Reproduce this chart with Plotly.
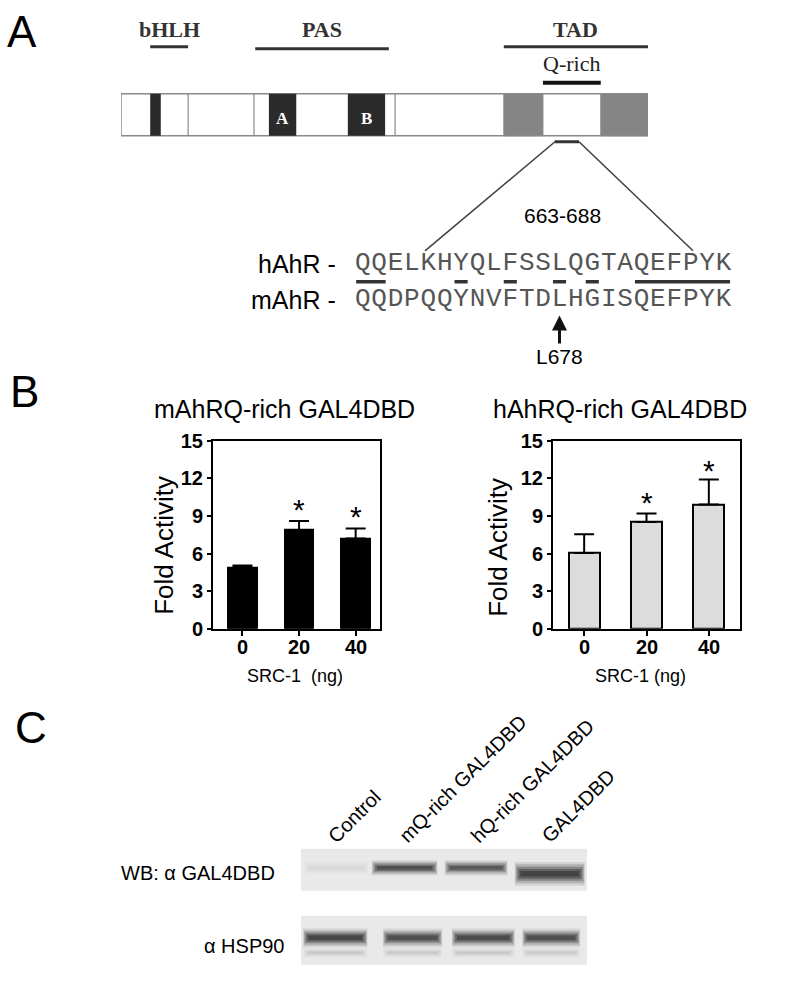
import plotly.graph_objects as go

W, H = 800, 981
# measured: photographed y = OFF + SC * page y  -> compensate
OFF, SC = 10.25, 0.9775

# ---------------- data ----------------
src1_ng = ["0", "20", "40"]
m_fold = [4.9, 7.87, 7.2]
m_err = [0.15, 0.73, 0.8]
m_star = [None, 10.1, 9.55]
h_fold = [6.04, 8.52, 9.92]
h_err = [1.5, 0.68, 2.0]
h_star = [None, 10.67, 13.2]
y_ticks = [0, 3, 6, 9, 12, 15]

hAhR_seq = "QQELKHYQLFSSLQGTAQEFPYK"
mAhR_seq = "QQDPQQYNVFTDLHGISQEFPYK"
mutant_index = 12
mutant_label = "L678"
region_label = "663-688"

protein_len = 848
domain_labels = ["bHLH", "PAS", "TAD"]
domain_spans = [(47, 108), (216, 431), (616, 848)]
qrich_span = (679, 772)
divider_pos = [108, 214, 441]
dark_boxes = [(47, 64, ""), (238, 282, "A"), (365, 425, "B")]
grey_boxes = [(616, 679), (772, 848)]
zoom_span = (698, 737)

lanes = ["Control", "mQ-rich GAL4DBD", "hQ-rich GAL4DBD", "GAL4DBD"]
gal4_band = [0.05, 0.8, 0.72, 0.95]
hsp90_band = [0.92, 0.8, 0.85, 0.8]

# ---------------- helpers ----------------
def fx(px):
    return px / W

def fy(t):
    page = (t - OFF) / SC
    return 1 - page / H

SANS = "Arial, Liberation Sans, sans-serif"
SERIF = "Times New Roman, Liberation Serif, serif"
MONO = "Courier New, Liberation Mono, monospace"

fig = go.Figure()

fig.add_trace(go.Bar(
    x=src1_ng, y=m_fold, width=0.51, xaxis="x", yaxis="y",
    marker=dict(color="black", line=dict(color="black", width=2)),
    error_y=dict(type="data", symmetric=False, array=m_err, arrayminus=[0] * 3,
                 color="black", thickness=2, width=10),
    showlegend=False, hoverinfo="skip"))
fig.add_trace(go.Bar(
    x=src1_ng, y=h_fold, width=0.5, xaxis="x2", yaxis="y2",
    marker=dict(color="#dcdcdc", line=dict(color="black", width=2)),
    error_y=dict(type="data", symmetric=False, array=h_err, arrayminus=[0] * 3,
                 color="black", thickness=2, width=10),
    showlegend=False, hoverinfo="skip"))

idx = list(range(len(hAhR_seq)))
fig.add_trace(go.Scatter(x=idx, y=[0] * len(idx), mode="text", text=list(hAhR_seq),
                         textfont=dict(family=MONO, size=26, color="#555"),
                         xaxis="x6", yaxis="y6", showlegend=False, hoverinfo="skip"))
fig.add_trace(go.Scatter(x=idx, y=[1] * len(idx), mode="text", text=list(mAhR_seq),
                         textfont=dict(family=MONO, size=26, color="#555"),
                         xaxis="x6", yaxis="y6", showlegend=False, hoverinfo="skip"))

shapes = []
ann = []

for xi, s in enumerate(m_star):
    if s is not None:
        ann.append(dict(x=xi, y=s, xref="x", yref="y", text="*", showarrow=False,
                        font=dict(family=SANS, size=30, color="black"), yshift=-7))
for xi, s in enumerate(h_star):
    if s is not None:
        ann.append(dict(x=xi, y=s, xref="x2", yref="y2", text="*", showarrow=False,
                        font=dict(family=SANS, size=30, color="black"), yshift=-7))

# category tick labels placed close under the axis
for xr in ["x", "x2"]:
    for xi, lab in enumerate(src1_ng):
        ann.append(dict(x=xi, y=646, xref=xr, yref="y3", text="<b>%s</b>" % lab,
                        showarrow=False, font=dict(family=SANS, size=20, color="black")))

def pann(x, y, text, size, family=SANS, **kw):
    d = dict(x=x, y=y, xref="x3", yref="y3", text=text, showarrow=False,
             font=dict(family=family, size=size, color=kw.pop("color", "black")))
    d.update(kw)
    ann.append(d)

pann(22, 31, "A", 44)
pann(24, 391, "B", 44)
pann(31, 727, "C", 44)

pann(284, 408, "mAhRQ-rich GAL4DBD", 25)
pann(620, 408, "hAhRQ-rich GAL4DBD", 25)
pann(164, 545, "Fold Activity", 26, textangle=-90)
pann(498, 547, "Fold Activity", 26, textangle=-90)
pann(295, 675, "SRC-1  (ng)", 18)
pann(640, 675, "SRC-1 (ng)", 18)

for lab, (a, b), ly in zip(domain_labels, domain_spans, [46, 48, 46]):
    shapes.append(dict(type="line", xref="x5", yref="y3", x0=a, x1=b, y0=ly, y1=ly,
                       line=dict(color="#333", width=3)))
    ann.append(dict(x=(a + b) / 2, y=29, xref="x5", yref="y3", text="<b>%s</b>" % lab,
                    showarrow=False, font=dict(family=SERIF, size=22, color="#333")))
shapes.append(dict(type="line", xref="x5", yref="y3", x0=qrich_span[0], x1=qrich_span[1],
                   y0=82, y1=82, line=dict(color="#111", width=4)))
ann.append(dict(x=sum(qrich_span) / 2, y=63, xref="x5", yref="y3", text="Q-rich",
                showarrow=False, font=dict(family=SERIF, size=22, color="#222")))

shapes.append(dict(type="rect", xref="x5", yref="y3", x0=0, x1=protein_len, y0=93, y1=135,
                   fillcolor="white", line=dict(color="#8a8a8a", width=1.5)))
for g0, g1 in grey_boxes:
    shapes.append(dict(type="rect", xref="x5", yref="y3", x0=g0, x1=g1, y0=93, y1=135,
                       fillcolor="#858585", line=dict(color="#8a8a8a", width=1)))
for d in divider_pos:
    shapes.append(dict(type="line", xref="x5", yref="y3", x0=d, x1=d, y0=93, y1=135,
                       line=dict(color="#8a8a8a", width=1.2)))
for b0, b1, lab in dark_boxes:
    shapes.append(dict(type="rect", xref="x5", yref="y3", x0=b0, x1=b1, y0=93, y1=135,
                       fillcolor="#2b2b2b", line=dict(width=0)))
    if lab:
        ann.append(dict(x=(b0 + b1) / 2, y=118, xref="x5", yref="y3", text="<b>%s</b>" % lab,
                        showarrow=False, font=dict(family=SERIF, size=17, color="white")))

shapes.append(dict(type="line", xref="x5", yref="y3", x0=zoom_span[0], x1=zoom_span[1],
                   y0=141, y1=141, line=dict(color="#333", width=3)))
shapes.append(dict(type="path", xref="x3", yref="y3",
                   path="M 425 250 L 555 141 M 579 141 L 693 250",
                   line=dict(color="#444", width=1.6)))
pann(562, 215, region_label, 21)

pann(338, 263, "hAhR -", 25, xanchor="right")
pann(338, 299, "mAhR -", 25, xanchor="right")

cons = [i for i, (a, b) in enumerate(zip(hAhR_seq, mAhR_seq)) if a == b]
runs = []
for i in cons:
    if runs and runs[-1][1] == i - 1:
        runs[-1][1] = i
    else:
        runs.append([i, i])
for r0, r1 in runs:
    shapes.append(dict(type="line", xref="x6", yref="y6", x0=r0 - 0.4, x1=r1 + 0.4,
                       y0=0.5, y1=0.5, line=dict(color="#333", width=3.5)))

ann.append(dict(x=mutant_index, y=1.44, xref="x6", yref="y6", text=mutant_label,
                showarrow=True, ax=0, ay=41, axref="pixel", ayref="pixel",
                arrowhead=2, arrowsize=1, arrowwidth=3, arrowcolor="#111",
                font=dict(family=SANS, size=21, color="black")))

for i, lab in enumerate(lanes):
    ann.append(dict(x=i - 0.23, y=849, xref="x4", yref="y3", text=lab, textangle=-45,
                    xanchor="left", yanchor="bottom", showarrow=False,
                    font=dict(family=SANS, size=20, color="black")))

shapes.append(dict(type="rect", xref="x4", yref="y3", x0=-0.5, x1=3.5, y0=848, y1=890,
                   fillcolor="#e9e9e9", line=dict(width=0)))
shapes.append(dict(type="rect", xref="x4", yref="y3", x0=-0.5, x1=3.5, y0=915, y1=964,
                   fillcolor="#e9e9e9", line=dict(width=0)))

def soft_band(cx, w, c, hh, v, base=35):
    for sw, sh, op in [(1.0, 1.7, 0.12), (0.98, 1.35, 0.2), (0.95, 1.0, 0.3),
                       (0.9, 0.7, 0.4), (0.84, 0.4, 0.5)]:
        shapes.append(dict(type="rect", xref="x4", yref="y3",
                           x0=cx - w * sw / 2, x1=cx + w * sw / 2,
                           y0=c - hh * sh / 2, y1=c + hh * sh / 2,
                           fillcolor="rgba(%d,%d,%d,%.3f)" % (base, base, base, op * v),
                           line=dict(width=0)))

gal4_c = [867, 867, 867, 873]
gal4_h = [8, 9, 9, 14]
gal4_dx = [0.0, -0.05, -0.05, -0.02]
gal4_w = [0.9, 0.92, 0.88, 0.98]
for i, v in enumerate(gal4_band):
    soft_band(i + gal4_dx[i], gal4_w[i], gal4_c[i], gal4_h[i], v)

hsp_dx = [-0.02, 0.06, 0.05, 0.0]
hsp_w = [0.9, 0.83, 0.88, 0.81]
for i, v in enumerate(hsp90_band):
    soft_band(i + hsp_dx[i], hsp_w[i], 937, 11, v)
    soft_band(i + hsp_dx[i], hsp_w[i], 952, 6, 0.15 * v, base=70)

pann(277, 872, "WB: α GAL4DBD", 20, xanchor="right")
pann(287, 945, "α HSP90", 20, xanchor="right")

bar_x = dict(type="category", showgrid=False, zeroline=False, showline=True, linewidth=2,
             linecolor="black", mirror=True, ticks="outside", ticklen=5, tickwidth=2,
             tickcolor="black", showticklabels=False)
bar_y = dict(range=[0, 15], tickvals=y_ticks, showgrid=False, zeroline=False, showline=True,
             linewidth=2, linecolor="black", mirror=True, ticks="outside", ticklen=4,
             tickwidth=2, tickcolor="black",
             tickfont=dict(family=SANS, size=20, color="black", weight="bold"))
hidden = dict(visible=False, showgrid=False, zeroline=False)

fig.update_layout(
    width=W, height=H, margin=dict(l=0, r=0, t=0, b=0),
    paper_bgcolor="white", plot_bgcolor="rgba(0,0,0,0)", showlegend=False,
    xaxis=dict(bar_x, domain=[fx(213), fx(380)], range=[-0.52, 2.43], anchor="y"),
    yaxis=dict(bar_y, domain=[fy(628), fy(440)], anchor="x"),
    xaxis2=dict(bar_x, domain=[fx(553), fx(740)], range=[-0.5, 2.5], anchor="y2"),
    yaxis2=dict(bar_y, domain=[fy(628), fy(440)], anchor="x2"),
    xaxis3=dict(hidden, domain=[0, 1], range=[0, W], anchor="y3"),
    yaxis3=dict(hidden, domain=[0, 1], range=[OFF + SC * H, OFF], anchor="x3"),
    xaxis4=dict(hidden, domain=[fx(301), fx(587)], range=[-0.5, 3.5], anchor="y3"),
    xaxis5=dict(hidden, domain=[fx(121), fx(648)], range=[0, protein_len], anchor="y3"),
    xaxis6=dict(hidden, domain=[fx(354.5), fx(731.7)], range=[-0.5, 22.5], anchor="y6"),
    yaxis6=dict(hidden, domain=[fy(371), fy(227)], range=[3, -1], anchor="x6"),
    shapes=shapes, annotations=ann, bargap=0,
)

fig.write_html("out.html", config={"displayModeBar": False},
               post_script="document.body.style.margin='0';document.body.style.padding='0';")
